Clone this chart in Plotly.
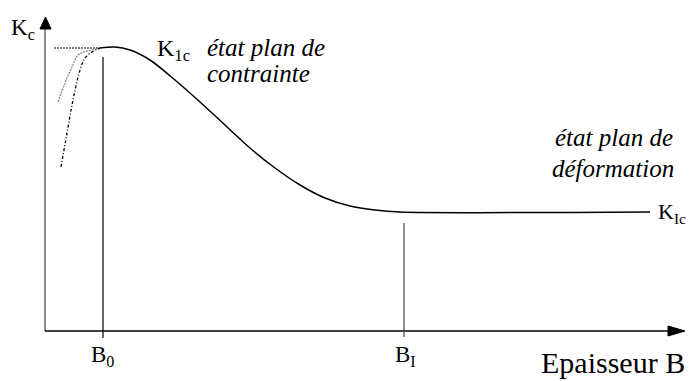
import plotly.graph_objects as go

# Data (x = thickness B, y = toughness Kc), arbitrary units
thickness = [55, 70, 85, 105, 130, 155, 180, 205, 230, 255, 280, 305, 330, 355, 605]
kc = [283, 284, 281, 271, 251, 229, 206, 183, 163, 146, 133, 125, 121, 119, 119]

plateau_x = [9, 55]
plateau_y = [283, 283]
thin1_x = [13, 20, 27, 33, 42, 52, 55]
thin1_y = [229, 248, 264, 276, 280, 282, 283]
thin2_x = [16, 22, 28, 35, 40, 47, 55]
thin2_y = [164, 198, 231, 261, 273, 279, 283]

B0 = 58
BI = 359

fig = go.Figure()
F = "Liberation Serif"

# axes
fig.add_trace(go.Scatter(x=[0, 0], y=[0, 302], mode="lines", line=dict(color="#666", width=1.5), hoverinfo="skip"))
fig.add_trace(go.Scatter(x=[-5, 6, 0.5, -5], y=[302, 302, 314, 302], mode="lines", fill="toself",
                         fillcolor="black", line=dict(color="black", width=1), hoverinfo="skip"))
fig.add_trace(go.Scatter(x=[0, 625], y=[0, 0], mode="lines", line=dict(color="black", width=1.5), hoverinfo="skip"))
fig.add_trace(go.Scatter(x=[623, 623, 640, 623], y=[5, -5, 0, 5], mode="lines", fill="toself",
                         fillcolor="black", line=dict(color="black", width=1), hoverinfo="skip"))

# vertical markers
fig.add_trace(go.Scatter(x=[B0, B0], y=[-7, 274], mode="lines", line=dict(color="black", width=1.2), hoverinfo="skip"))
fig.add_trace(go.Scatter(x=[BI, BI], y=[-6, 108], mode="lines", line=dict(color="#444", width=1.2), hoverinfo="skip"))

# curves
fig.add_trace(go.Scatter(x=plateau_x, y=plateau_y, mode="lines", line=dict(color="black", width=1.2, dash="2px,1px"), hoverinfo="skip"))
fig.add_trace(go.Scatter(x=thin1_x, y=thin1_y, mode="lines", line=dict(color="#888", width=1.3, dash="2px,1px", shape="spline"), hoverinfo="skip"))
fig.add_trace(go.Scatter(x=thin2_x, y=thin2_y, mode="lines", line=dict(color="black", width=1.3, dash="3px,2px,1px,2px", shape="spline"), hoverinfo="skip"))
fig.add_trace(go.Scatter(x=thickness, y=kc, mode="lines", line=dict(color="black", width=1.5, shape="spline", smoothing=0.8), hoverinfo="skip"))

def txt(x, y, t, size, anchor="left", italic=False):
    if italic:
        t = "<i>" + t + "</i>"
    fig.add_annotation(x=x, y=y, text=t, showarrow=False, xanchor=anchor, yanchor="middle",
                       font=dict(family=F, size=size, color="black"))

txt(-36, 302, "K<sub>c</sub>", 23)
txt(110, 281, "K<sub>1c</sub>", 24)
txt(160, 284, "état plan de", 25, italic=True)
txt(160, 258, "contrainte", 25, italic=True)
txt(508, 194, "état plan de", 25, italic=True)
txt(505, 163, "déformation", 25, italic=True)
txt(643, 118, "K<sub>Ic</sub>", 22, anchor="right")
txt(44, -25, "B<sub>0</sub>", 23)
txt(348, -25, "B<sub>I</sub>", 23)
txt(642, -31, "Epaisseur B", 30, anchor="right")

fig.update_layout(width=689, height=381, margin=dict(l=0, r=0, t=0, b=0),
                  plot_bgcolor="white", paper_bgcolor="white", showlegend=False,
                  xaxis=dict(range=[-45, 644], visible=False, fixedrange=True),
                  yaxis=dict(range=[-50, 331], visible=False, fixedrange=True))
fig.write_html("out.html", config={"displayModeBar": False},
               post_script="document.body.style.margin='0';document.body.style.overflow='hidden';")
